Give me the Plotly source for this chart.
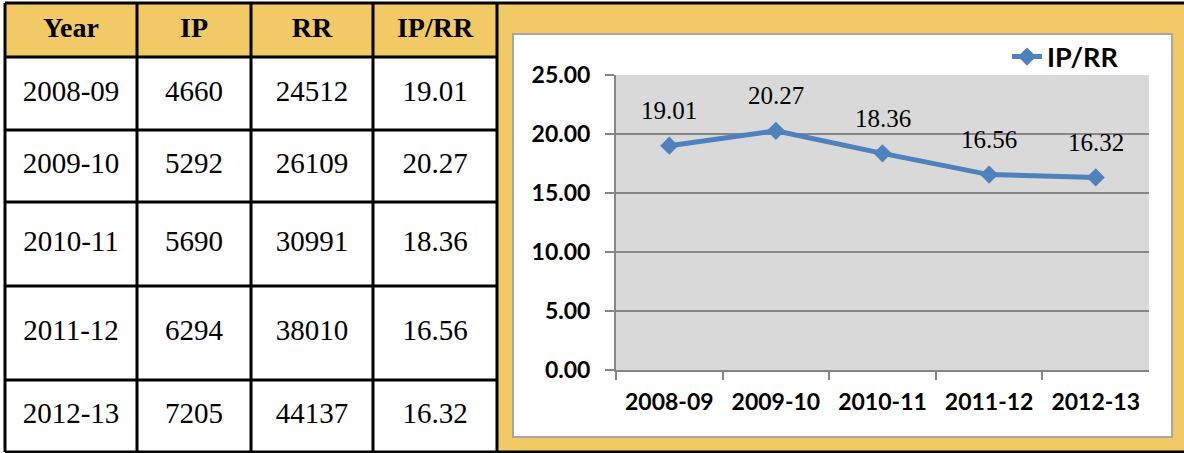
import plotly.graph_objects as go

# ---------------- data ----------------
years = ["2008-09", "2009-10", "2010-11", "2011-12", "2012-13"]
ip_values = [4660, 5292, 5690, 6294, 7205]
rr_values = [24512, 26109, 30991, 38010, 44137]
ratio_values = [19.01, 20.27, 18.36, 16.56, 16.32]
table_headers = ["Year", "IP", "RR", "IP/RR"]
series_name = "IP/RR"

# ---------------- layout constants (pixels) ----------------
W, H = 1184, 453
col_edges = [5, 137, 251, 373, 497]
row_edges = [3, 57, 130, 202, 286, 380, 452]
GOLD = "#F1C965"
BLUE = "#4F81BD"
GRID = "#868686"


def px(x):
    return x / W


def py(y):
    return 1 - y / H


fig = go.Figure()

# ---------------- chart ----------------
fig.add_trace(go.Scatter(
    x=years, y=ratio_values, name=series_name,
    mode="lines+markers",
    line=dict(color=BLUE, width=5),
    marker=dict(symbol="diamond", size=14, color=BLUE),
    xaxis="x", yaxis="y", hoverinfo="skip",
))

for yr, v in zip(years, ratio_values):
    fig.add_annotation(
        x=yr, y=v, xref="x", yref="y", text=f"{v:.2f}", showarrow=False,
        yshift=35, font=dict(family="Liberation Serif", size=25, color="black"),
    )

# ---------------- table (hidden pixel axes) ----------------
col_centers = [(a + b) / 2 for a, b in zip(col_edges[:-1], col_edges[1:])]
row_centers = [(a + b) / 2 for a, b in zip(row_edges[:-1], row_edges[1:])]

fig.add_trace(go.Scatter(
    x=col_centers, y=[row_centers[0]] * len(table_headers),
    text=[f"<b>{h}</b>" for h in table_headers], mode="text",
    textposition="middle center",
    textfont=dict(family="Liberation Serif", size=28, color="black"),
    xaxis="x2", yaxis="y2", showlegend=False, hoverinfo="skip",
))

cell_x, cell_y, cell_t = [], [], []
for i, yr in enumerate(years):
    row = [yr, str(ip_values[i]), str(rr_values[i]), f"{ratio_values[i]:.2f}"]
    for j, t in enumerate(row):
        cell_x.append(col_centers[j])
        cell_y.append(row_centers[i + 1])
        cell_t.append(t)

fig.add_trace(go.Scatter(
    x=cell_x, y=cell_y, text=cell_t, mode="text",
    textposition="middle center",
    textfont=dict(family="Liberation Serif", size=29, color="black"),
    xaxis="x2", yaxis="y2", showlegend=False, hoverinfo="skip",
))

shapes = []
# gold right panel and white chart box (paper)
shapes.append(dict(type="rect", xref="paper", yref="paper", layer="below",
                   x0=px(497), x1=px(W), y0=py(452), y1=py(3),
                   fillcolor=GOLD, line=dict(width=0)))
shapes.append(dict(type="rect", xref="paper", yref="paper", layer="below",
                   x0=px(513), x1=px(1172), y0=py(437), y1=py(34),
                   fillcolor="white", line=dict(color="#A6A6A6", width=2)))
# gray plot area
shapes.append(dict(type="rect", xref="x domain", yref="y domain", layer="below",
                   x0=0, x1=1, y0=0, y1=1, fillcolor="#D9D9D9", line=dict(width=0)))
# header fill
shapes.append(dict(type="rect", xref="x2", yref="y2", layer="below",
                   x0=col_edges[0], x1=col_edges[-1], y0=row_edges[0], y1=row_edges[1],
                   fillcolor=GOLD, line=dict(width=0)))
# table lines
for yv in row_edges:
    x1 = W if yv in (row_edges[0], row_edges[-1]) else col_edges[-1]
    shapes.append(dict(type="line", xref="x2", yref="y2", x0=col_edges[0], x1=x1,
                       y0=yv, y1=yv, line=dict(color="black", width=3)))
for xv in col_edges:
    shapes.append(dict(type="line", xref="x2", yref="y2", x0=xv, x1=xv,
                       y0=row_edges[0], y1=row_edges[-1], line=dict(color="black", width=3)))

tick_font = dict(family="Lato", size=23, color="black", weight="bold")

fig.update_layout(
    template="none",
    width=W, height=H, autosize=False,
    margin=dict(l=0, r=0, t=0, b=0, pad=0, autoexpand=False),
    paper_bgcolor="white", plot_bgcolor="rgba(0,0,0,0)",
    shapes=shapes,
    showlegend=True,
    legend=dict(x=px(1007), xanchor="left", y=py(57), yanchor="middle",
                bgcolor="rgba(0,0,0,0)", borderwidth=0,
                font=dict(family="Lato", size=27, color="black", weight="bold")),
    xaxis=dict(domain=[px(616), px(1149)], type="category", range=[-0.5, 4.5],
               showline=True, linecolor=GRID, linewidth=2, automargin=False,
               ticks="outside", tickson="boundaries", ticklen=8, tickwidth=2,
               tickcolor=GRID, showgrid=False, tickfont=tick_font,
               ticklabelstandoff=10, anchor="y", fixedrange=True),
    yaxis=dict(domain=[py(370), py(75)], range=[0, 25], dtick=5, tickformat=".2f",
               showline=True, linecolor=GRID, linewidth=2, automargin=False,
               ticks="outside", ticklen=9, tickwidth=2, tickcolor=GRID,
               showgrid=True, gridcolor=GRID, gridwidth=2, zeroline=False,
               tickfont=tick_font, ticklabelstandoff=10, anchor="x", fixedrange=True),
    xaxis2=dict(domain=[0, 1], range=[0, W], visible=False, anchor="y2",
                automargin=False, fixedrange=True),
    yaxis2=dict(domain=[0, 1], range=[H, 0], visible=False, anchor="x2",
                automargin=False, fixedrange=True),
)

fig.write_html("out.html", config={"displayModeBar": False, "staticPlot": True},
               post_script="document.body.style.margin='0px';")
